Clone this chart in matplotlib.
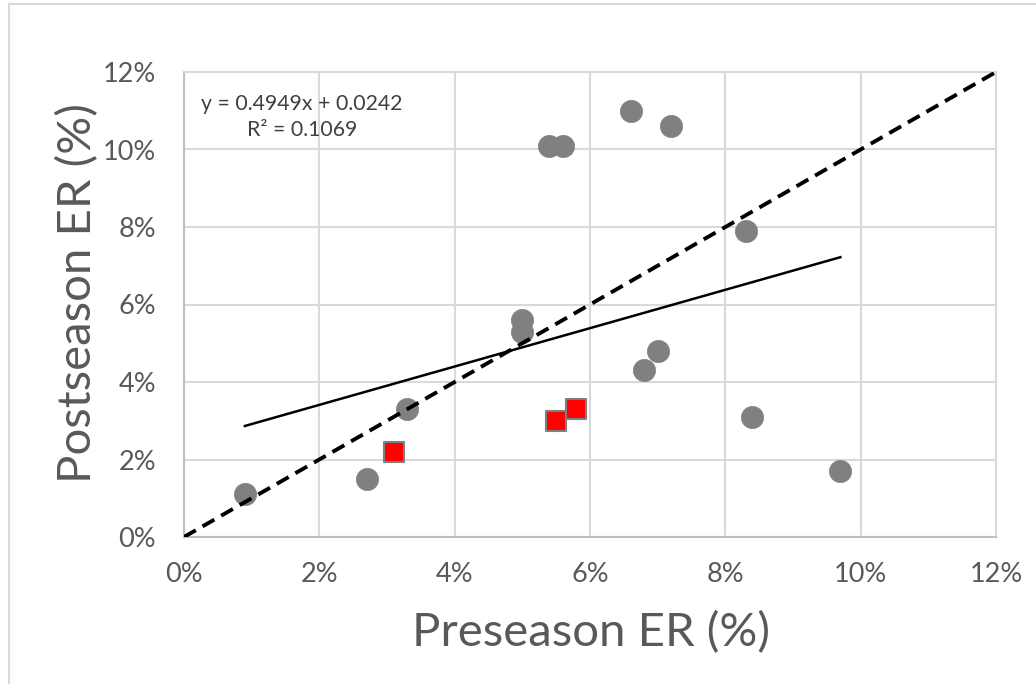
import matplotlib
matplotlib.use("Agg")
import matplotlib.pyplot as plt
from matplotlib.patches import Rectangle
from matplotlib.ticker import FuncFormatter
import numpy as np

# Data (fractions)
gray_x = [0.009, 0.027, 0.033, 0.050, 0.050, 0.054, 0.056, 0.066, 0.072, 0.083, 0.068, 0.070, 0.084, 0.097]
gray_y = [0.011, 0.015, 0.033, 0.056, 0.053, 0.101, 0.101, 0.110, 0.106, 0.079, 0.043, 0.048, 0.031, 0.017]
red_x = [0.031, 0.055, 0.058]
red_y = [0.022, 0.030, 0.033]
ref_line = [0.0, 0.12]
slope = 0.4949
intercept = 0.0242
r2 = 0.1069
ticks = [0.0, 0.02, 0.04, 0.06, 0.08, 0.10, 0.12]

plt.rcParams['font.family'] = ['Lato', 'DejaVu Sans']

fig = plt.figure(figsize=(10.36, 6.84), dpi=100)
fig.patch.set_facecolor('white')
# outer chart border
fig.patches.append(Rectangle((9 / 1036, -0.05), 1.2, (684 - 4) / 684 + 0.05,
                             transform=fig.transFigure, fill=False,
                             edgecolor='#d9d9d9', linewidth=1.5, zorder=0))

ax = fig.add_axes([184 / 1036, (684 - 537) / 684, (996 - 184) / 1036, (537 - 72) / 684])
ax.set_xlim(0, 0.12)
ax.set_ylim(0, 0.12)
ax.set_xticks(ticks)
ax.set_yticks(ticks)
pct = FuncFormatter(lambda v, p: f"{v * 100:.0f}%")
ax.xaxis.set_major_formatter(pct)
ax.yaxis.set_major_formatter(pct)
ax.grid(True, color='#d9d9d9', linewidth=1.5, zorder=0)
ax.set_axisbelow(True)
for s in ['top', 'right']:
    ax.spines[s].set_color('#d9d9d9')
    ax.spines[s].set_linewidth(1.5)
for s in ['left', 'bottom']:
    ax.spines[s].set_color('#bfbfbf')
    ax.spines[s].set_linewidth(1.5)
ax.tick_params(length=0, labelsize=19.5, labelcolor='#595959')
ax.tick_params(axis='y', pad=20)
ax.tick_params(axis='x', pad=18)

# markers
ax.scatter(gray_x, gray_y, s=(16) ** 2, color='#808080', edgecolors='#808080', linewidths=0.5, zorder=3)
ax.scatter(red_x, red_y, s=(15) ** 2, marker='s', color='#ff0000', edgecolors='#7f7f7f', linewidths=1.5, zorder=3)

# 1:1 dashed line
ax.plot(ref_line, ref_line, color='black', linewidth=2.8, linestyle=(0, (3.5, 2.0)), zorder=4)

# trend line
tx = np.array([min(gray_x), max(gray_x)])
ax.plot(tx, slope * tx + intercept, color='black', linewidth=1.8, zorder=4)

ax.text((302 - 184) / 812, (537 - 117) / 465,
        f"y = {slope:.4f}x + {intercept:.4f}\nR\u00b2 = {r2:.4f}",
        transform=ax.transAxes, ha='center', va='center', multialignment='center',
        fontsize=15.3, color='#404040', linespacing=1.35)

fig.text(591 / 1036, 1 - 633 / 684, "Preseason ER (%)", ha='center', va='center',
         fontsize=34, color='#595959')
fig.text(78 / 1036, 1 - 293 / 684, "Postseason ER (%)", ha='center', va='center',
         rotation=90, fontsize=34, color='#595959')

fig.savefig("out.png", dpi=100, facecolor='white')
